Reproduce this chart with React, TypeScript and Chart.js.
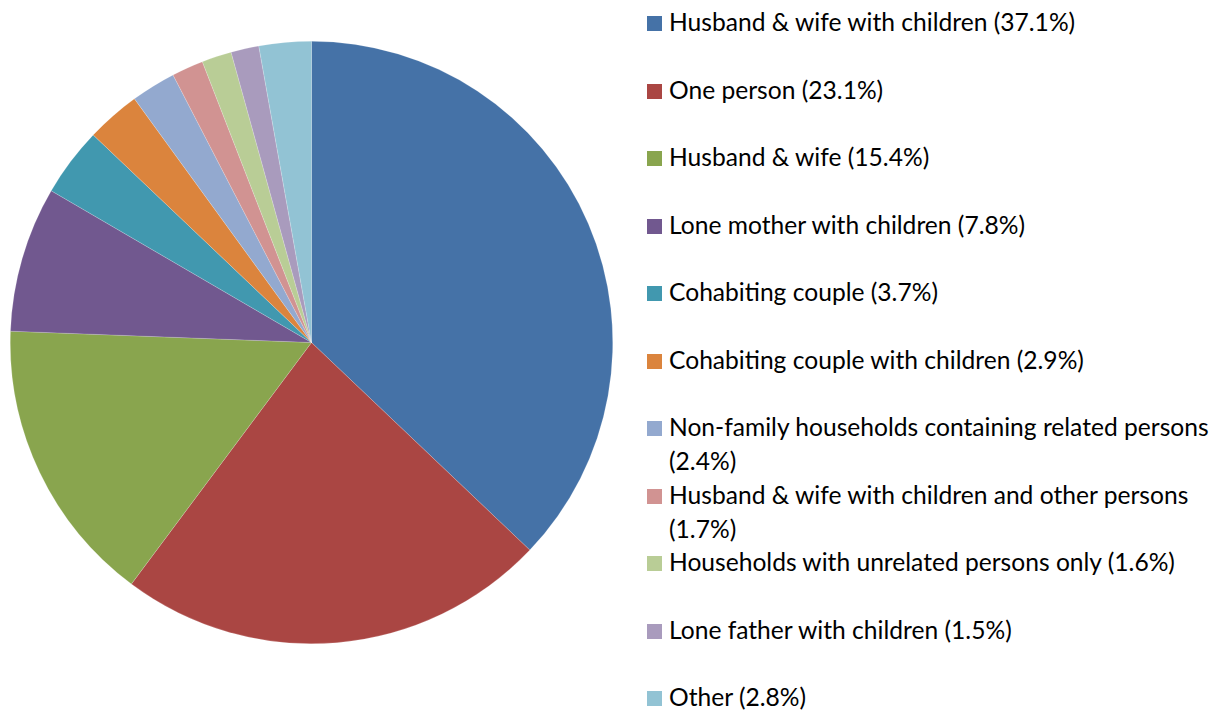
import React, { useEffect, useRef } from "react";
import { Chart, registerables } from "chart.js";

Chart.register(...registerables);

const categories = [
  "Husband & wife with children",
  "One person",
  "Husband & wife",
  "Lone mother with children",
  "Cohabiting couple",
  "Cohabiting couple with children",
  "Non-family households containing related persons",
  "Husband & wife with children and other persons",
  "Households with unrelated persons only",
  "Lone father with children",
  "Other",
];
const shares = [37.1, 23.1, 15.4, 7.8, 3.7, 2.9, 2.4, 1.7, 1.6, 1.5, 2.8];
const colors = [
  "#4572A7",
  "#AA4643",
  "#89A54E",
  "#71588F",
  "#4198AF",
  "#DB843D",
  "#93A9CF",
  "#D19392",
  "#B9CD96",
  "#A99BBD",
  "#92C3D4",
];

const FONT = "Lato, 'Open Sans', sans-serif";

export default function App() {
  const ref = useRef<HTMLCanvasElement | null>(null);
  useEffect(() => {
    if (!ref.current) return;
    const chart = new Chart(ref.current, {
      type: "pie",
      data: {
        labels: categories,
        datasets: [
          {
            data: shares,
            backgroundColor: colors,
            borderColor: "rgba(255,255,255,0.35)",
            borderWidth: 0.5,
          },
        ],
      },
      options: {
        responsive: false,
        animation: false,
        maintainAspectRatio: false,
        layout: { padding: 0 },
        plugins: {
          legend: { display: false },
          tooltip: { enabled: false },
        },
      },
    });
    return () => chart.destroy();
  }, []);

  return (
    <div
      style={{
        position: "absolute",
        left: 0,
        top: 0,
        width: 1227,
        height: 711,
        background: "#fff",
        overflow: "hidden",
      }}
    >
      <canvas
        ref={ref}
        width={603}
        height={603}
        style={{ position: "absolute", left: 10, top: 41, width: 603, height: 603 }}
      />
      <div
        style={{
          position: "absolute",
          left: 647,
          top: 5,
          width: 580,
          fontFamily: FONT,
          fontSize: 24.6,
          color: "#000",
        }}
      >
        {categories.map((c, i) => (
          <div
            key={c}
            style={{ height: 67.5, display: "flex", alignItems: "flex-start" }}
          >
            <div
              style={{
                width: 15,
                height: 15,
                marginTop: 11,
                background: colors[i],
                flex: "0 0 auto",
              }}
            />
            <div style={{ marginLeft: 7, lineHeight: "34px", width: 565 }}>
              {c} ({shares[i].toFixed(1)}%)
            </div>
          </div>
        ))}
      </div>
    </div>
  );
}
